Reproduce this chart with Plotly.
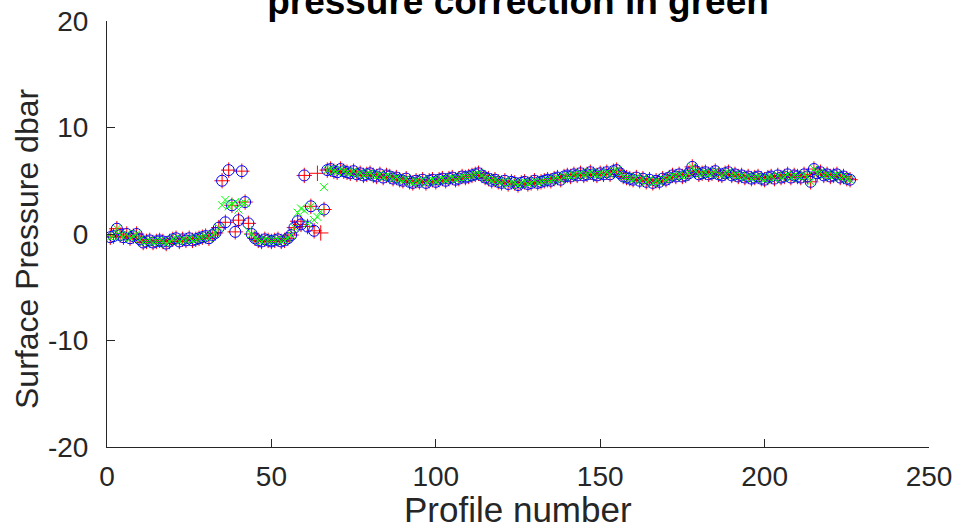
import plotly.graph_objects as go

profile = list(range(1, 227))

raw_pressure = [
    -0.3, -0.2, 0.5, -0.1, -0.3, 0.0, -0.4, -0.2, 0.0, -0.5,
    -0.8, -0.7, -0.6, -0.8, -0.7, -0.6, -0.7, -0.9, -0.7, -0.5,
    -0.4, -0.7, -0.5, -0.6, -0.4, -0.6, -0.5, -0.4, -0.3, -0.2,
    -0.4, -0.1, 0.1, 0.6, 5.0, 1.1, 6.0, 2.7, 0.2, 1.3,
    5.9, 3.0, 1.0, 0.0, -0.4, -0.6, -0.7, -0.5, -0.6, -0.7,
    -0.6, -0.5, -0.7, -0.6, -0.4, -0.1, 0.6, 1.2, 0.9, 5.5,
    0.7, 2.6, 0.3, 5.7, 0.1, 2.3, 6.0, 6.1, 5.9, 5.8,
    6.1, 5.9, 5.8, 5.7, 5.9, 5.6, 5.7, 5.5, 5.6, 5.7,
    5.5, 5.4, 5.6, 5.3, 5.5, 5.4, 5.2, 5.3, 5.1, 5.0,
    5.2, 4.9, 4.8, 5.0, 4.9, 5.1, 4.8, 5.0, 5.1, 4.9,
    5.1, 5.2, 5.0, 5.2, 5.3, 5.1, 5.2, 5.4, 5.3, 5.4,
    5.5, 5.6, 5.7, 5.5, 5.3, 5.2, 5.0, 5.1, 4.9, 4.8,
    5.0, 4.7, 4.9, 4.8, 4.6, 4.8, 4.9, 4.7, 4.8, 5.0,
    4.8, 4.9, 5.0, 5.1, 5.0, 5.2, 5.3, 5.1, 5.4, 5.5,
    5.4, 5.6, 5.5, 5.7, 5.5, 5.6, 5.8, 5.6, 5.5, 5.7,
    5.6, 5.8, 5.6, 5.9, 6.0, 5.7, 5.4, 5.3, 5.2, 5.1,
    5.3, 5.0, 5.2, 4.9, 5.1, 4.8, 5.0, 4.9, 5.2, 5.1,
    5.3, 5.5, 5.4, 5.6, 5.4, 5.5, 5.7, 6.3, 5.9, 5.6,
    5.7, 5.8, 5.6, 5.7, 5.9, 5.6, 5.5, 5.7, 5.8, 5.5,
    5.6, 5.4, 5.5, 5.3, 5.4, 5.2, 5.3, 5.4, 5.2, 5.1,
    5.3, 5.4, 5.2, 5.5, 5.3, 5.4, 5.6, 5.3, 5.5, 5.4,
    5.3, 5.6, 5.4, 4.9, 6.1, 5.7, 5.8, 5.5, 5.6, 5.4,
    5.5, 5.6, 5.3, 5.4, 5.2, 5.1,
]

# blue circles: same as raw except two profiles that have no circle
blue_missing_profiles = [64, 65]
blue_pressure = [None if p in blue_missing_profiles else v
                 for p, v in zip(profile, raw_pressure)]

# green (corrected) values where they differ from the raw values
green_changes = {
    35: 2.7, 36: 3.2, 37: 2.6, 38: 2.8, 39: 3.0, 40: 2.3, 41: 2.9, 42: 2.9,
    43: 0.3, 58: 2.0, 59: 2.4, 60: 2.2, 61: 1.0, 63: 1.3, 64: 1.6, 65: 2.1,
    66: 4.4,
}
green_pressure = [green_changes.get(p, v) for p, v in zip(profile, raw_pressure)]

x_ticks = [0, 50, 100, 150, 200, 250]
y_ticks = [-20, -10, 0, 10, 20]
y_ticktext = ["-20", "-10", "0", "10", "20"]

FONT = "Liberation Sans, Arial, sans-serif"
AX = "#262626"

L, R, T, B = 107, 27, 21, 84
W, H = 956, 531
PW, PH = W - L - R, H - T - B

fig = go.Figure()
fig.add_trace(go.Scatter(
    x=profile, y=raw_pressure, mode="markers",
    marker=dict(symbol="cross-thin-open", size=11, color="red",
                line=dict(color="red", width=1)),
    showlegend=False))
fig.add_trace(go.Scatter(
    x=profile, y=blue_pressure, mode="markers",
    marker=dict(symbol="circle-open", size=11, color="blue",
                line=dict(color="blue", width=1)),
    showlegend=False))
fig.add_trace(go.Scatter(
    x=profile, y=green_pressure, mode="markers",
    marker=dict(symbol="x-thin-open", size=8, color="#00ff00",
                line=dict(color="#00ff00", width=1)),
    showlegend=False))

fig.update_layout(
    width=W, height=H,
    margin=dict(l=L, r=R, t=T, b=B, autoexpand=False),
    paper_bgcolor="white", plot_bgcolor="white",
    font=dict(family=FONT, color=AX),
    title=dict(text="<b>pressure correction in green</b>",
               x=(L + W - R) / 2 / W, xanchor="center",
               y=1 - 14 / H, yanchor="bottom", yref="container",
               font=dict(size=37, color="black", family=FONT)),
    annotations=[
        dict(text="Surface Pressure dbar", textangle=-90,
             xref="paper", yref="paper",
             x=(27 - L) / PW, y=(H - B - 249) / PH,
             xanchor="center", yanchor="middle", showarrow=False,
             font=dict(size=32, color=AX, family=FONT)),
        dict(text="Profile number",
             xref="paper", yref="paper",
             x=0.5, y=(H - B - 509) / PH,
             xanchor="center", yanchor="middle", showarrow=False,
             font=dict(size=35, color=AX, family=FONT)),
    ],
)
fig.update_xaxes(
    range=[0, 250], tickvals=x_ticks, ticks="inside", ticklen=8,
    tickcolor=AX, showline=True, linecolor=AX, linewidth=1,
    showgrid=False, zeroline=False, tickfont=dict(size=28, color=AX),
    ticklabelstandoff=4, automargin=False,
)
fig.update_yaxes(
    range=[-20, 20], tickvals=y_ticks, ticktext=y_ticktext, ticks="inside",
    ticklen=8, tickcolor=AX, showline=True, linecolor=AX, linewidth=1,
    showgrid=False, zeroline=False, tickfont=dict(size=28, color=AX),
    ticklabelstandoff=12, automargin=False,
)

fig.write_html("out.html")
